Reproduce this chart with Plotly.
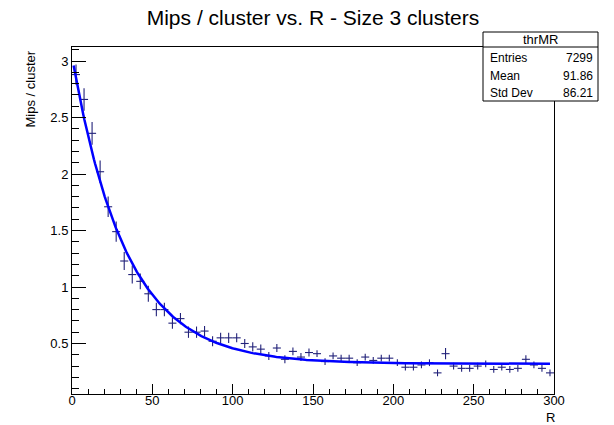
import plotly.graph_objects as go
import numpy as np

# ---------------- data ----------------
bin_centers = [2.5 + 5 * i for i in range(60)]
mips_per_cluster = [
    2.88, 2.66, 2.36, 2.02, 1.71, 1.49, 1.23, 1.11, 1.05, 0.94,
    0.80, 0.80, 0.68, 0.72, 0.60, 0.60, 0.61, 0.52, 0.55, 0.55,
    0.55, 0.50, 0.47, 0.45, 0.39, 0.46, 0.36, 0.43, 0.38, 0.42,
    0.41, 0.34, 0.39, 0.37, 0.37, 0.33, 0.38, 0.35, 0.37, 0.37,
    0.33, 0.29, 0.29, 0.31, 0.33, 0.24, 0.41, 0.30, 0.28, 0.28,
    0.30, 0.32, 0.27, 0.29, 0.27, 0.28, 0.36, 0.31, 0.28, 0.24,
]
y_errors = [
    0.09, 0.10, 0.10, 0.10, 0.09, 0.09, 0.08, 0.08, 0.07, 0.07,
    0.06, 0.06, 0.05, 0.05, 0.05, 0.05, 0.045, 0.045, 0.045, 0.045,
    0.04, 0.04, 0.04, 0.04, 0.035, 0.035, 0.035, 0.035, 0.035, 0.035,
    0.03, 0.03, 0.03, 0.03, 0.03, 0.03, 0.03, 0.03, 0.03, 0.03,
    0.03, 0.03, 0.03, 0.03, 0.03, 0.03, 0.05, 0.03, 0.03, 0.03,
    0.03, 0.03, 0.03, 0.03, 0.03, 0.03, 0.035, 0.03, 0.03, 0.03,
]
bin_half_width = 2.5
# exponential fit: p0*exp(-x/p1) + p2
fit_params = [2.72, 33.5, 0.32]
fit_range = [1.0, 297.5]

stats_name = "thrMR"
stats_labels = ["Entries", "Mean", "Std Dev"]
stats_values = ["7299", "91.86", "86.21"]

title_text = "Mips / cluster vs. R - Size 3 clusters"
x_title = "R"
y_title = "Mips / cluster"

# ---------------- figure ----------------
FONT = "Liberation Sans, Arial, Helvetica, sans-serif"
W, H = 614, 425
L, R, T, B = 72, 60, 47, 31
pw, ph = W - L - R, H - T - B

fig = go.Figure()

fig.add_trace(go.Scatter(
    x=bin_centers, y=mips_per_cluster, mode="markers",
    marker=dict(size=1, color="rgba(0,0,0,0)"),
    error_x=dict(type="constant", value=bin_half_width, width=0,
                 color="#22227a", thickness=1.1),
    error_y=dict(type="data", array=y_errors, width=0,
                 color="#22227a", thickness=1.1),
    showlegend=False, hoverinfo="x+y",
))

xf = np.linspace(fit_range[0], fit_range[1], 400)
yf = fit_params[0] * np.exp(-xf / fit_params[1]) + fit_params[2]
fig.add_trace(go.Scatter(
    x=xf, y=yf, mode="lines",
    line=dict(color="#0000ff", width=2.5),
    showlegend=False, hoverinfo="skip",
))

fig.update_layout(
    width=W, height=H,
    margin=dict(l=L, r=R, t=T, b=B),
    paper_bgcolor="white", plot_bgcolor="white",
    font=dict(family=FONT, color="black", size=13),
    title=dict(text=title_text, x=0.5, xref="paper", xanchor="center",
               y=1 - 18 / H, yref="container", yanchor="middle",
               font=dict(size=21, family=FONT, color="black")),
)

fig.update_xaxes(
    range=[0, 300], tick0=0, dtick=50, ticks="inside", ticklen=10,
    tickcolor="black", tickwidth=1, ticklabelstandoff=-6,
    minor=dict(dtick=10, ticks="inside", ticklen=5, tickcolor="black", tickwidth=1),
    showline=True, linecolor="black", linewidth=1, mirror=True,
    showgrid=False, zeroline=False,
    tickfont=dict(size=13, family=FONT, color="black"),
)
fig.update_yaxes(
    range=[0.053, 3.124], tick0=0, dtick=0.5, ticks="inside", ticklen=14,
    tickcolor="black", tickwidth=1,
    minor=dict(dtick=0.1, ticks="inside", ticklen=7, tickcolor="black", tickwidth=1),
    showline=True, linecolor="black", linewidth=1, mirror=True,
    showgrid=False, zeroline=False,
    tickfont=dict(size=13, family=FONT, color="black"),
)

def px_x(p):
    return (p - L) / pw

def px_y(p):
    return (H - B - p) / ph

# axis titles
fig.add_annotation(text=y_title, textangle=-90, xref="paper", yref="paper",
                   x=px_x(30), y=px_y(49), xanchor="center", yanchor="top",
                   showarrow=False, font=dict(size=13, family=FONT))
fig.add_annotation(text=x_title, xref="paper", yref="paper",
                   x=px_x(556), y=px_y(417.5), xanchor="right", yanchor="middle",
                   showarrow=False, font=dict(size=13, family=FONT),
                   borderpad=0)

# stats box
bx0, bx1, by0, by1, bsep = 483, 598, 32, 101, 47
fig.add_shape(type="rect", xref="paper", yref="paper",
              x0=px_x(bx0), x1=px_x(bx1), y0=px_y(by1), y1=px_y(by0),
              line=dict(color="black", width=1), fillcolor="white", layer="above")
fig.add_shape(type="line", xref="paper", yref="paper",
              x0=px_x(bx0), x1=px_x(bx1), y0=px_y(bsep), y1=px_y(bsep),
              line=dict(color="black", width=1), layer="above")
fig.add_annotation(text=stats_name, xref="paper", yref="paper",
                   x=px_x((bx0 + bx1) / 2), y=px_y(39.5), xanchor="center",
                   yanchor="middle", showarrow=False, font=dict(size=13, family=FONT))
row_y = [58, 76, 93]
for lab, val, ry in zip(stats_labels, stats_values, row_y):
    fig.add_annotation(text=lab, xref="paper", yref="paper",
                       x=px_x(bx0 + 5), y=px_y(ry), xanchor="left", yanchor="middle",
                       showarrow=False, font=dict(size=12, family=FONT))
    fig.add_annotation(text=val, xref="paper", yref="paper",
                       x=px_x(bx1 - 3), y=px_y(ry), xanchor="right", yanchor="middle",
                       showarrow=False, font=dict(size=12, family=FONT))

fig.write_html("out.html")
